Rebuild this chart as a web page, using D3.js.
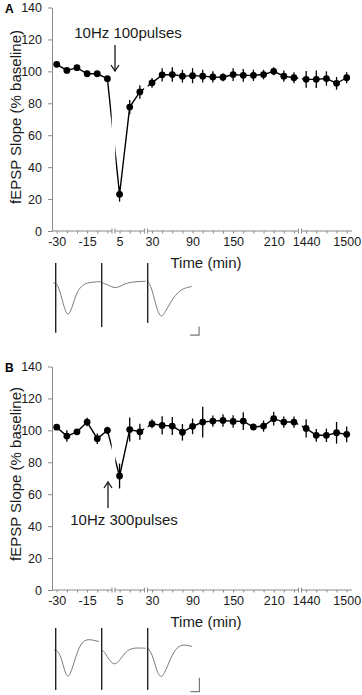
<!DOCTYPE html>
<html><head><meta charset="utf-8">
<script src="https://cdn.jsdelivr.net/npm/d3@7"></script>
<style>body{margin:0;background:#fff}svg{display:block;font-family:"Liberation Sans",Arial,sans-serif}</style>
</head><body><svg id="c" width="362" height="695"></svg>
<script>
// ---- data ----
const times = [-30,-25,-20,-15,-10,-5, 5,10,15, 30,45,60,75,90,105,120,135,150,165,180,195,210,225,240, 1440,1455,1470,1485,1500];
const breaksAfter = [-5, 15, 240];
const xTickLabels = [-30,-15,5,30,90,150,210,1440,1500];
const yTicks = [0,20,40,60,80,100,120,140];

const slopeA = [104.4,100.6,102.3,98.5,98.5,95.4, 23,77.6,87.1, 92.8,97.8,98,97,97.3,97,96.5,96.3,98,97.5,97.5,98,100,97,96, 95,95,95.5,92.5,96];
const errA   = [1,1,1,1,1,1, 4.6,4.4,4.2, 3,4.2,4.5,4,4.7,4,3.5,2.5,4,4,3.5,3,2.5,3.5,3.5, 5.2,5.5,4.5,4,3.5];

const slopeB = [102,96.4,99.1,105.2,94.8,100, 71.4,100.5,99.1, 104.1,103.1,102.7,98.8,102.5,105.2,105.8,106.2,105.6,105.8,102.1,102.7,107.3,105.2,105.2, 101.2,96.9,96.9,98.5,97.5];
const errB   = [1.5,3.6,1.5,2.7,3.3,2.3, 7.8,7.5,5, 2.8,5.7,5.6,5.2,4.9,9.6,3.5,3.9,3.9,5.5,1.9,3.5,4.2,3.5,3.5, 5.7,4,4.2,6.8,4.9];

// example traces: [ms from sweep start, mV from baseline]
const sweepOffsetMs = 15.33;
const traceA1 = [[-0.8,0],[0,0],[1,-0.1],[2.5,-0.6],[4,-1.0],[5.5,-0.7],[7,-0.25],[9,-0.05],[11,0.02],[15,0.04]];
const traceA2 = [[0,0.01],[2,-0.05],[4.4,-0.16],[6.5,-0.08],[9,0.03],[14.6,0.05]];
const traceA3 = [[0,0.05],[1.3,-0.12],[2.6,-0.6],[4.3,-1.05],[6,-0.8],[8.6,-0.4],[11.3,-0.16],[14.7,-0.1]];
const traceB1 = [[-0.5,0],[0,0],[0.9,-0.05],[2,-0.25],[3,-0.62],[4.1,-0.81],[5.3,-0.6],[7,-0.1],[8.5,0.2],[10.5,0.33],[14.4,0.24]];
const traceB2 = [[0,0],[0.9,-0.05],[2,-0.22],[4.1,-0.46],[6,-0.3],[8,-0.05],[10.2,0.07],[14.6,0.05]];
const traceB3 = [[0,0.05],[1.5,-0.1],[3,-0.6],[4.4,-0.83],[6,-0.6],[8,-0.15],[10.6,0.19],[14.8,0.1]];
const artifactsA = [[0.57,-1.42],[0.57,-1.26],[0.57,-1.14]];
const artifactsB = [[0.63,-1.14],[0.63,-1.14],[0.63,-1.14]];
const scaleBarA = {t:47.8, v:-1.49, dt:3, dv:0.25};
const scaleBarB = {t:47.9, v:-1.19, dt:3, dv:0.4};

// ---- drawing ----
const svg = d3.select("#c");
const gap = 0.2;
const slotIndex = t => times.indexOf(t) + gap * breaksAfter.filter(b => b < t).length;
const idxMax = slotIndex(times[times.length-1]);
const xIdx = d3.scaleLinear().domain([0, idxMax]).range([56.7, 346.7]);
const x = t => xIdx(slotIndex(t));
const breakX = breaksAfter.map(b => {
  const i = times.indexOf(b);
  return (x(times[i]) + x(times[i+1])) / 2;
});
const axisGrey = "#8a8a8a";
const FONT = '"Liberation Sans",Arial,sans-serif';

function panel(opt){
  const g = svg.append("g");
  const y = d3.scaleLinear().domain([0,140]).range([opt.y0, opt.y0 - 223.5]);
  const data = times.map((t,i)=>({t, v:opt.vals[i], e:opt.errs[i]}));

  g.append("path").datum(data)
    .attr("d", d3.line().x(d=>x(d.t)).y(d=>y(d.v)))
    .attr("fill","none").attr("stroke","#000").attr("stroke-width",1.4);
  g.selectAll("rect.gap").data(breakX).join("rect")
    .attr("x", d=>d-1.8).attr("width",3.6)
    .attr("y", y(140)).attr("height", y(0)-y(140)-2)
    .attr("fill","#fff");
  g.selectAll("line.err").data(data).join("line")
    .attr("x1", d=>x(d.t)).attr("x2", d=>x(d.t))
    .attr("y1", d=>y(d.v-d.e)).attr("y2", d=>y(d.v+d.e))
    .attr("stroke","#000").attr("stroke-width",1.3);
  g.selectAll("circle").data(data).join("circle")
    .attr("cx", d=>x(d.t)).attr("cy", d=>y(d.v)).attr("r",3.4).attr("fill","#000");

  const ya = g.append("g").attr("transform","translate(52,0)")
    .call(d3.axisLeft(y).tickValues(yTicks).tickSize(4).tickSizeOuter(0).tickPadding(6));
  ya.select(".domain").attr("stroke",axisGrey);
  ya.selectAll(".tick line").attr("stroke",axisGrey);
  ya.selectAll("text").attr("font-size",12.5).attr("fill","#1a1a1a").attr("font-family",FONT);

  const xa = g.append("g").attr("transform",`translate(0,${y(0)})`)
    .call(d3.axisBottom(xIdx).tickValues(times.map(slotIndex)).tickSize(2.5).tickPadding(4)
      .tickFormat((d,i)=> xTickLabels.includes(times[i]) ? times[i] : ""));
  xa.select(".domain").remove();
  xa.append("line").attr("x1",52).attr("x2",352).attr("stroke",axisGrey);
  xa.selectAll(".tick line").attr("stroke",axisGrey);
  xa.selectAll("text").attr("font-size",12.5).attr("fill","#1a1a1a").attr("font-family",FONT);
  const bm = xa.selectAll("g.brk").data(breakX).join("g").attr("class","brk");
  bm.append("rect").attr("x",d=>d-1.2).attr("y",-2).attr("width",2.4).attr("height",4).attr("fill","#fff");
  bm.append("line").attr("x1",d=>d-1.5).attr("x2",d=>d-1.5).attr("y1",-2.5).attr("y2",2.5).attr("stroke",axisGrey);
  bm.append("line").attr("x1",d=>d+1.5).attr("x2",d=>d+1.5).attr("y1",-2.5).attr("y2",2.5).attr("stroke",axisGrey);

  g.append("text").attr("x",206).attr("y",y(0)+37).attr("text-anchor","middle")
    .attr("font-size",15).attr("fill","#1a1a1a").text("Time (min)");
  g.append("text").attr("transform",`translate(21,${opt.labelY}) rotate(-90)`)
    .attr("text-anchor","middle").attr("font-size",15).attr("fill","#1a1a1a")
    .text("fEPSP Slope (% baseline)");
  g.append("text").attr("x",5).attr("y",y(140)+5).attr("font-size",12).attr("font-weight","bold")
    .text(opt.letter);

  const a = opt.ann;
  g.append("text").attr("x",a.tx).attr("y",a.ty).attr("text-anchor","middle")
    .attr("font-size",15).attr("fill","#1a1a1a").text(a.text);
  g.append("line").attr("x1",a.ax).attr("x2",a.ax).attr("y1",a.y1).attr("y2",a.y2)
    .attr("stroke","#1a1a1a").attr("stroke-width",1.3);
  const dir = Math.sign(a.y2-a.y1);
  g.append("path").attr("d",`M${a.ax-4},${a.y2-dir*6}L${a.ax},${a.y2}L${a.ax+4},${a.y2-dir*6}`)
    .attr("fill","none").attr("stroke","#1a1a1a").attr("stroke-width",1.3);

  const xT = d3.scaleLinear().domain([0,46]).range([55.7, 55.7+138]);
  const yT = d3.scaleLinear().domain([0,1]).range([opt.traceBase, opt.traceBase-35]);
  const tl = d3.line().x(d=>xT(d[0])).y(d=>yT(d[1])).curve(d3.curveBasis);
  opt.sweeps.forEach((sw,k)=>{
    const off = k*sweepOffsetMs;
    g.append("path").datum(sw.map(p=>[p[0]+off,p[1]])).attr("d",tl)
      .attr("fill","none").attr("stroke","#7a7a7a").attr("stroke-width",1);
    const ar = opt.artifacts[k];
    g.append("line").attr("x1",xT(off)).attr("x2",xT(off)).attr("y1",yT(ar[0])).attr("y2",yT(ar[1]))
      .attr("stroke","#222").attr("stroke-width",1.4);
  });
  const sb = opt.scaleBar;
  g.append("path").attr("d",`M${xT(sb.t-sb.dt)},${yT(sb.v)}H${xT(sb.t)}V${yT(sb.v+sb.dv)}`)
    .attr("fill","none").attr("stroke","#7a7a7a").attr("stroke-width",1.2);
}

panel({y0:231, vals:slopeA, errs:errA, letter:"A", labelY:117,
  ann:{text:"10Hz 100pulses", tx:128, ty:38, ax:115, y1:45, y2:71},
  sweeps:[traceA1,traceA2,traceA3], artifacts:artifactsA, traceBase:283, scaleBar:scaleBarA});
panel({y0:590, vals:slopeB, errs:errB, letter:"B", labelY:474,
  ann:{text:"10Hz 300pulses", tx:124, ty:525, ax:108, y1:508, y2:482},
  sweeps:[traceB1,traceB2,traceB3], artifacts:artifactsB, traceBase:650, scaleBar:scaleBarB});
</script></body></html>
